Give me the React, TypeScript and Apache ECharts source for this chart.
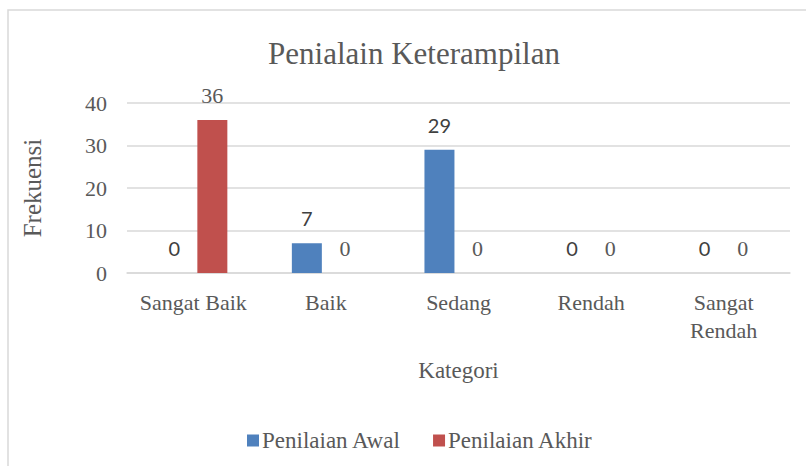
import React, { useEffect, useRef } from "react";
import * as echarts from "echarts";

const categories = ["Sangat Baik", "Baik", "Sedang", "Rendah", "Sangat\nRendah"];
const awalValues = [0, 7, 29, 0, 0];
const akhirValues = [36, 0, 0, 0, 0];
const seriesNames = ["Penilaian Awal", "Penilaian Akhir"];
const titleText = "Penialain Keterampilan";
const yAxisName = "Frekuensi";
const xAxisName = "Kategori";

const SERIF = "'Liberation Serif', 'DejaVu Serif', serif";
const SANS = "Lato, 'Open Sans', sans-serif";
const TXT = "#595959";

export default function App() {
  const ref = useRef<HTMLDivElement>(null);
  useEffect(() => {
    document.body.style.margin = "0";
    if (!ref.current) return;
    const chart = echarts.init(ref.current, undefined, { renderer: "svg" });
    chart.setOption({
      animation: false,
      backgroundColor: "#ffffff",
      color: ["#4F81BD", "#C0504D"],
      title: {
        text: titleText,
        left: 409,
        top: 33,
        textAlign: "center",
        textStyle: { fontFamily: SERIF, fontSize: 31, fontWeight: "normal", color: TXT },
      },
      graphic: [
        {
          type: "rect",
          shape: { x: 8, y: 10, width: 830, height: 500 },
          style: { fill: "none", stroke: "#d9d9d9", lineWidth: 1.5 },
          silent: true,
        },
      ],
      legend: {
        data: seriesNames,
        left: 242,
        top: 424,
        itemWidth: 12,
        itemHeight: 12,
        itemGap: 32,
        icon: "rect",
        textStyle: { fontFamily: SERIF, fontSize: 23, color: TXT, padding: [0, 0, 0, -2] },
      },
      grid: { left: 127, right: 16, top: 103, bottom: 193, containLabel: false },
      xAxis: {
        type: "category",
        data: categories,
        name: xAxisName,
        nameLocation: "middle",
        nameGap: 86,
        nameTextStyle: { fontFamily: SERIF, fontSize: 23, color: TXT },
        axisLine: { show: true, lineStyle: { color: "#d9d9d9", width: 1.5 } },
        axisTick: { show: false },
        axisLabel: {
          fontFamily: SERIF,
          fontSize: 22,
          color: TXT,
          margin: 15,
          lineHeight: 28,
          interval: 0,
        },
      },
      yAxis: {
        type: "value",
        min: 0,
        max: 40,
        interval: 10,
        name: yAxisName,
        nameLocation: "middle",
        nameGap: 82,
        nameTextStyle: { fontFamily: SERIF, fontSize: 25, color: TXT },
        axisLine: { show: false },
        axisTick: { show: false },
        axisLabel: { fontFamily: SERIF, fontSize: 22, color: TXT, margin: 20 },
        splitLine: { lineStyle: { color: "#d9d9d9", width: 1.5 } },
      },
      series: [
        {
          name: seriesNames[0],
          type: "bar",
          data: awalValues,
          barWidth: 30,
          barGap: "27%",
          label: {
            show: true,
            position: "top",
            distance: 15,
            fontFamily: SANS,
            fontSize: 20,
            color: "#404040",
          },
        },
        {
          name: seriesNames[1],
          type: "bar",
          data: akhirValues,
          barWidth: 30,
          barGap: "27%",
          label: {
            show: true,
            position: "top",
            distance: 14,
            fontFamily: SERIF,
            fontSize: 22,
            color: TXT,
          },
        },
      ],
    });
    return () => chart.dispose();
  }, []);
  return <div ref={ref} style={{ width: 806, height: 466 }} />;
}
